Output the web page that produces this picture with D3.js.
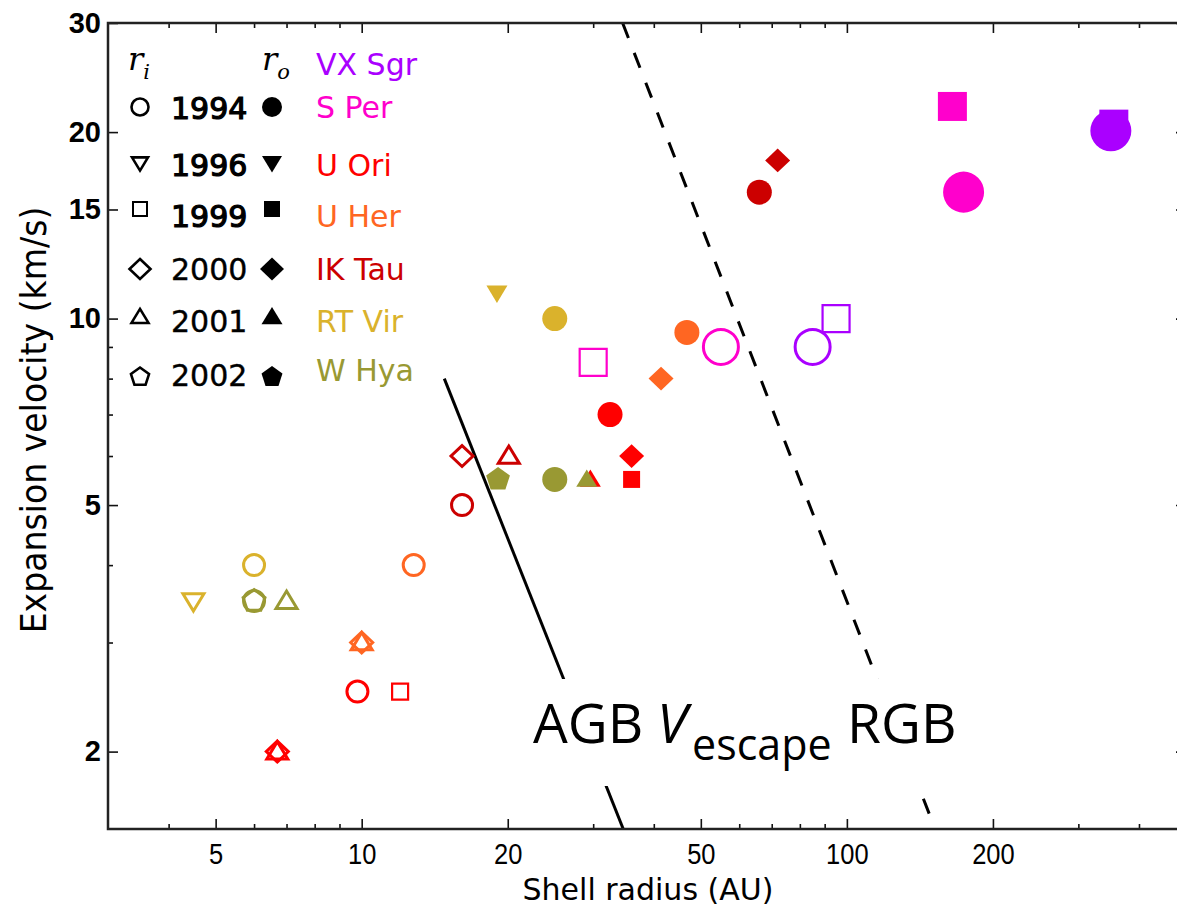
<!DOCTYPE html>
<html>
<head>
<meta charset="utf-8">
<script src="https://cdn.jsdelivr.net/npm/d3@7"></script>
<style>
  body { margin: 0; background: #fff; }
  svg { display: block; }
</style>
</head>
<body>
<script>
// ---- data ----
var stars = ["VX Sgr", "S Per", "U Ori", "U Her", "IK Tau", "RT Vir", "W Hya"];
var starColors = ["#aa00ff", "#ff00cc", "#ff0000", "#ff6622", "#cc0000", "#dab22c", "#999933"];
var years = ["1994", "1996", "1999", "2000", "2001", "2002"];
var yearShapes = ["circle", "triDown", "square", "diamond", "triUp", "pentagon"];

// inner shell radius r_i (open markers): [star, year, radius (AU), velocity (km/s)]
var innerPoints = [
  ["VX Sgr", "1994", 85, 9.0],
  ["VX Sgr", "1999", 95, 10.0],
  ["S Per", "1994", 55, 9.0],
  ["S Per", "1999", 30, 8.5],
  ["U Ori", "1994", 9.8, 2.5],
  ["U Ori", "1999", 12, 2.5],
  ["U Ori", "2000", 6.7, 2.0],
  ["U Ori", "2001", 6.7, 2.0],
  ["U Her", "1994", 12.8, 4.0],
  ["U Her", "2000", 10, 3.0],
  ["U Her", "2001", 10, 3.0],
  ["IK Tau", "1994", 16.1, 5.0],
  ["IK Tau", "2000", 16.1, 6.0],
  ["IK Tau", "2001", 20.1, 6.0],
  ["RT Vir", "1994", 6.0, 4.0],
  ["RT Vir", "1996", 4.5, 3.5],
  ["W Hya", "1994", 6.0, 3.5],
  ["W Hya", "2002", 6.0, 3.5],
  ["W Hya", "2001", 7.0, 3.5]
];

// outer shell radius r_o (filled markers)
var outerPoints = [
  ["VX Sgr", "1999", 355, 20.6],
  ["VX Sgr", "1994", 350, 20.1],
  ["S Per", "1999", 165, 22.0],
  ["S Per", "1994", 174, 16.0],
  ["U Ori", "1994", 32.5, 7.0],
  ["U Ori", "2000", 36, 6.0],
  ["U Ori", "1999", 36, 5.5],
  ["U Ori", "2001", 29.6, 5.5],
  ["U Her", "1994", 46.8, 9.5],
  ["U Her", "2000", 41.4, 8.0],
  ["IK Tau", "1994", 66, 16.0],
  ["IK Tau", "2000", 72, 18.0],
  ["RT Vir", "1996", 19.0, 11.0],
  ["RT Vir", "1994", 25.0, 10.0],
  ["W Hya", "2002", 19.1, 5.5],
  ["W Hya", "1994", 25.0, 5.5],
  ["W Hya", "2001", 29.1, 5.5]
];

var bigStars = ["VX Sgr", "S Per"];

// escape velocity lines, [radius, velocity] end points
var agbLine = [[14.8, 8.0], [34.6, 1.5]];
var rgbLine = [[34.5, 30], [152, 1.5]];

var xMajor = [5, 10, 20, 50, 100, 200];
var xMinor = [4, 6, 7, 8, 9, 30, 40, 60, 70, 80, 90, 300, 400];
var yMajor = [2, 5, 10, 15, 20, 30];
var yMinor = [3, 4, 6, 7, 8, 9];

// ---- svg ----
var W = 1177, H = 908;
var svg = d3.select("body").append("svg")
  .attr("width", W)
  .attr("height", H)
  .style("font-family", "DejaVu Sans");

var x = d3.scaleLog().domain([3, 500]).range([108, 1186]);
var y = d3.scaleLog().domain([1.5, 30]).range([829, 23]);

// marker shapes, h = half size
function shapePath(type, h) {
  var p = d3.path();
  if (type == "circle") {
    p.moveTo(h, 0);
    p.arc(0, 0, h, 0, 2 * Math.PI);
  } else if (type == "square") {
    p.rect(-h, -h, 2 * h, 2 * h);
  } else if (type == "diamond") {
    p.moveTo(0, -h * 0.95); p.lineTo(h, 0); p.lineTo(0, h * 0.95); p.lineTo(-h, 0); p.closePath();
  } else if (type == "triUp") {
    p.moveTo(0, -h * 0.95); p.lineTo(h, h * 0.7); p.lineTo(-h, h * 0.7); p.closePath();
  } else if (type == "triDown") {
    p.moveTo(0, h * 0.95); p.lineTo(h, -h * 0.7); p.lineTo(-h, -h * 0.7); p.closePath();
  } else if (type == "pentagon") {
    for (var k = 0; k < 5; k++) {
      var a = -Math.PI / 2 + k * 2 * Math.PI / 5;
      if (k == 0) p.moveTo(h * Math.cos(a), h * Math.sin(a));
      else p.lineTo(h * Math.cos(a), h * Math.sin(a));
    }
    p.closePath();
  }
  return p.toString();
}

// sizes per shape: [open small, filled small, open big, filled big]
var shapeSize = {
  circle: [10.5, 12.5, 17.5, 20.5],
  square: [8, 8.5, 13.5, 14.5],
  diamond: [11, 12.5, 14, 16],
  triUp: [10.5, 10.5, 14, 15],
  triDown: [10.5, 10.5, 14, 15],
  pentagon: [11.5, 12.5, 16, 18]
};

function shapeOf(year) { return yearShapes[years.indexOf(year)]; }
function colorOf(star) { return starColors[stars.indexOf(star)]; }

// ---- escape lines + label ----
var lineGen = d3.line().x(d => x(d[0])).y(d => y(d[1]));

svg.append("path")
  .attr("d", lineGen(agbLine))
  .attr("stroke", "#000")
  .attr("stroke-width", 3)
  .attr("fill", "none");

svg.append("path")
  .attr("d", lineGen(rgbLine))
  .attr("stroke", "#000")
  .attr("stroke-width", 3)
  .attr("stroke-dasharray", "16,16")
  .attr("fill", "none");

// ---- markers ----
var gPts = svg.append("g");

gPts.selectAll("path.inner")
  .data(innerPoints)
  .enter().append("path")
  .attr("class", "inner")
  .attr("transform", d => "translate(" + x(d[2]) + "," + y(d[3]) + ")")
  .attr("d", function(d) {
    var s = shapeSize[shapeOf(d[1])];
    return shapePath(shapeOf(d[1]), bigStars.indexOf(d[0]) >= 0 ? s[2] : s[0]);
  })
  .attr("fill", "none")
  .attr("stroke", d => colorOf(d[0]))
  .attr("stroke-width", d => shapeOf(d[1]) == "square" ? 2.2 : 3);

gPts.selectAll("path.outer")
  .data(outerPoints)
  .enter().append("path")
  .attr("class", "outer")
  .attr("transform", d => "translate(" + x(d[2]) + "," + y(d[3]) + ")")
  .attr("d", function(d) {
    var s = shapeSize[shapeOf(d[1])];
    return shapePath(shapeOf(d[1]), bigStars.indexOf(d[0]) >= 0 ? s[3] : s[1]);
  })
  .attr("fill", d => colorOf(d[0]))
  .attr("stroke", "none");

// label box over the lines
svg.append("rect")
  .attr("x", 520).attr("y", 679)
  .attr("width", 445).attr("height", 107)
  .attr("fill", "#fff");

var lab = svg.append("text")
  .attr("y", 743)
  .style("font-family", "'Open Sans', 'Noto Sans', sans-serif")
  .style("font-size", "55px")
  .attr("fill", "#000");
lab.append("tspan").attr("x", 533).text("AGB");
lab.append("tspan").attr("x", 657).style("font-style", "italic").text("V");
lab.append("tspan").attr("x", 692).attr("y", 760).style("font-size", "43px").text("escape");
lab.append("tspan").attr("x", 847).attr("y", 743).text("RGB");

// ---- axes ----
function styleAxis(g) {
  g.select(".domain").remove();
  g.selectAll(".tick line").attr("stroke", "#111").attr("stroke-width", 1.6);
}

var fmt = d3.format("d");

svg.append("g")
  .attr("transform", "translate(0,829)")
  .call(d3.axisBottom(x).tickValues(xMajor).tickSize(-10).tickFormat(fmt))
  .call(styleAxis)
  .call(g => g.selectAll(".tick text")
    .attr("y", 35)
    .attr("dy", 0)
    .attr("transform", "scale(0.85,1)")
    .attr("fill", "#000")
    .style("font-size", "30px"));

svg.append("g")
  .attr("transform", "translate(0,829)")
  .call(d3.axisBottom(x).tickValues(xMinor).tickSize(-5).tickFormat(""))
  .call(styleAxis);

svg.append("g")
  .attr("transform", "translate(0,23)")
  .call(d3.axisTop(x).tickValues(xMajor).tickSize(-10).tickFormat(""))
  .call(styleAxis);
svg.append("g")
  .attr("transform", "translate(0,23)")
  .call(d3.axisTop(x).tickValues(xMinor).tickSize(-5).tickFormat(""))
  .call(styleAxis);

svg.append("g")
  .attr("transform", "translate(108,0)")
  .call(d3.axisLeft(y).tickValues(yMajor).tickSize(-10).tickFormat(fmt))
  .call(styleAxis)
  .call(g => g.selectAll(".tick text")
    .attr("x", -7)
    .attr("fill", "#000")
    .style("font-weight", "bold")
    .style("font-size", "29px"));
svg.append("g")
  .attr("transform", "translate(108,0)")
  .call(d3.axisLeft(y).tickValues(yMinor).tickSize(-5).tickFormat(""))
  .call(styleAxis);

svg.append("g")
  .attr("transform", "translate(1186,0)")
  .call(d3.axisRight(y).tickValues(yMajor).tickSize(-10).tickFormat(""))
  .call(styleAxis);
svg.append("g")
  .attr("transform", "translate(1186,0)")
  .call(d3.axisRight(y).tickValues(yMinor).tickSize(-5).tickFormat(""))
  .call(styleAxis);

// frame
svg.append("rect")
  .attr("x", 108).attr("y", 23)
  .attr("width", 1186 - 108).attr("height", 829 - 23)
  .attr("fill", "none")
  .attr("stroke", "#222")
  .attr("stroke-width", 2.5);

// axis titles
svg.append("text")
  .attr("x", 648).attr("y", 900)
  .attr("text-anchor", "middle")
  .style("font-size", "30px")
  .text("Shell radius (AU)");

svg.append("text")
  .attr("transform", "translate(46,420) rotate(-90) scale(0.92,1)")
  .attr("text-anchor", "middle")
  .style("font-size", "36px")
  .text("Expansion velocity (km/s)");

// ---- legend ----
var leg = svg.append("g");
var yearRowY = [107, 163, 209, 269, 317, 377];
var yearBase = [119, 176, 227, 280, 332, 386];
var legOpen = { circle: 8.5, triDown: 8, square: 7, diamond: 10.5, triUp: 8.5, pentagon: 9.5 };
var legFill = { circle: 10, triDown: 10, square: 8, diamond: 12, triUp: 10.5, pentagon: 11 };

years.forEach(function(yr, i) {
  var sh = yearShapes[i];
  leg.append("path")
    .attr("transform", "translate(140," + yearRowY[i] + ")")
    .attr("d", shapePath(sh, legOpen[sh]))
    .attr("fill", "none")
    .attr("stroke", "#000")
    .attr("stroke-width", sh == "square" ? 2 : 2.6);
  leg.append("path")
    .attr("transform", "translate(272," + yearRowY[i] + ")")
    .attr("d", shapePath(sh, legFill[sh]))
    .attr("fill", "#000");
  leg.append("text")
    .attr("x", 171).attr("y", yearBase[i])
    .style("font-size", "30px")
    .attr("fill", "#000")
    .attr("stroke", "#000")
    .attr("stroke-width", i < 3 ? 1.2 : 0.4)
    .text(yr);
});

var nameBase = [75, 118, 176, 227, 280, 332, 381];
stars.forEach(function(s, i) {
  leg.append("text")
    .attr("x", 316).attr("y", nameBase[i])
    .style("font-size", "30px")
    .attr("fill", starColors[i])
    .text(s);
});

// r_i and r_o headers
[["i", 128], ["o", 262]].forEach(function(h) {
  var t = leg.append("text")
    .attr("x", h[1]).attr("y", 70)
    .style("font-family", "'DejaVu Serif', serif")
    .style("font-style", "italic")
    .style("font-size", "32px");
  t.append("tspan").text("r");
  t.append("tspan").attr("dy", 9).style("font-size", "21px").text(h[0]);
});
</script>
</body>
</html>
